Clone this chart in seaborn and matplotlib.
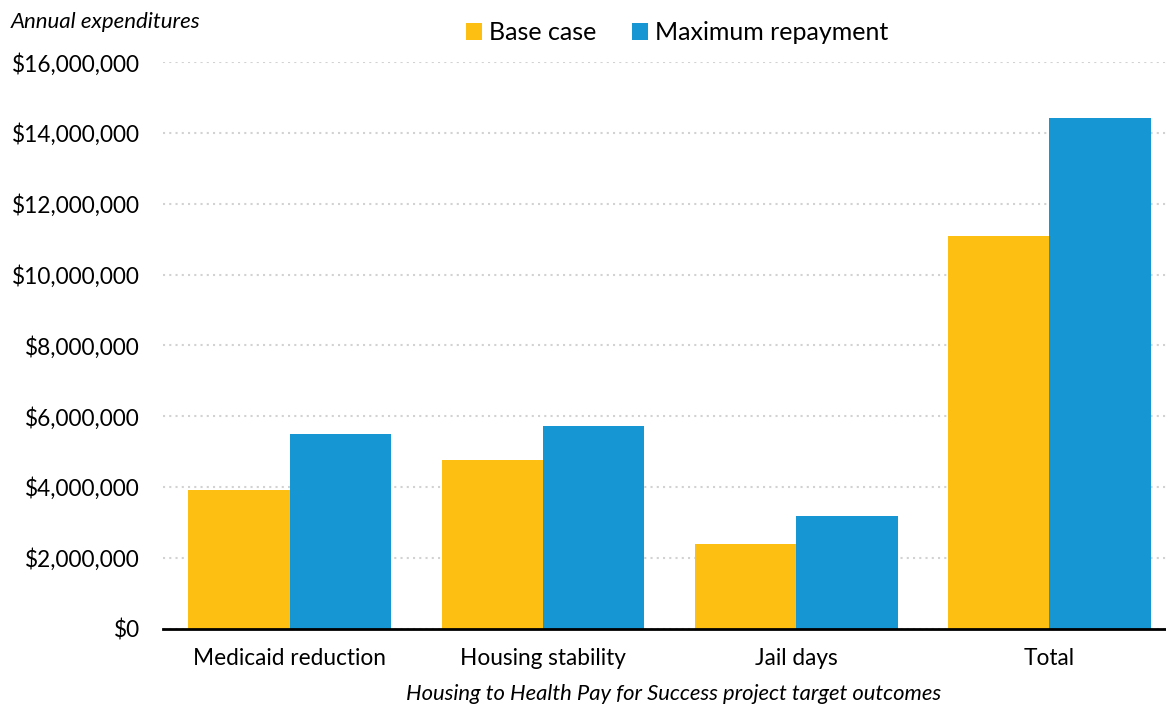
import matplotlib
matplotlib.use("Agg")
import matplotlib.pyplot as plt
import seaborn as sns
import pandas as pd
from matplotlib.ticker import FuncFormatter

categories = ["Medicaid reduction", "Housing stability", "Jail days", "Total"]
base_case = [3910000, 4770000, 2400000, 11100000]
max_repayment = [5500000, 5720000, 3170000, 14430000]
series_names = ["Base case", "Maximum repayment"]
colors = ["#fdbf11", "#1696d2"]

df = pd.DataFrame({
    "Outcome": categories * 2,
    "Value": base_case + max_repayment,
    "Series": [series_names[0]] * 4 + [series_names[1]] * 4,
})

sns.set_theme(style="white")
plt.rcParams["font.family"] = ["Lato", "DejaVu Sans"]
plt.rcParams["text.color"] = "black"
plt.rcParams["axes.labelcolor"] = "black"

fig = plt.figure(figsize=(11.66, 7.07), dpi=100)
ax = fig.add_axes([0.1398, 0.111, 0.8602, 0.801])

sns.barplot(data=df, x="Outcome", y="Value", hue="Series", palette=colors,
            width=0.8, gap=0, saturation=1, linewidth=0, ax=ax, legend=True)

ax.set_ylim(0, 16000000)
ax.set_xlim(-0.5, 3.46)
ax.set_yticks(range(0, 16000001, 2000000))
ax.yaxis.set_major_formatter(FuncFormatter(lambda v, p: f"${v:,.0f}"))
ax.yaxis.grid(True, linestyle=(0, (1, 2)), color="#d2d2d2", linewidth=1.5)
ax.set_axisbelow(True)
for s in ["left", "right", "top"]:
    ax.spines[s].set_visible(False)
ax.spines["bottom"].set_color("black")
ax.spines["bottom"].set_linewidth(2)
ax.tick_params(axis="both", length=0, labelsize=16.3, colors="black")
ax.tick_params(axis="x", pad=14)
ax.tick_params(axis="y", pad=16.5)

ax.set_xlabel("Housing to Health Pay for Success project target outcomes",
              fontsize=15.8, style="italic", labelpad=10)
ax.xaxis.set_label_coords(0.509, -0.116)
ax.xaxis.label.set_verticalalignment("center")
ax.set_ylabel("")
fig.text(0.009, 0.969, "Annual expenditures", fontsize=16, style="italic",
         ha="left", va="center")

leg = ax.legend(loc="center", ncol=2, frameon=False, fontsize=18,
                handlelength=0.65, handleheight=0.65,
                handletextpad=0.25, columnspacing=1.45)
leg.set_bbox_to_anchor((0.5806, 0.954), transform=fig.transFigure)

fig.savefig("out.png", dpi=100)
